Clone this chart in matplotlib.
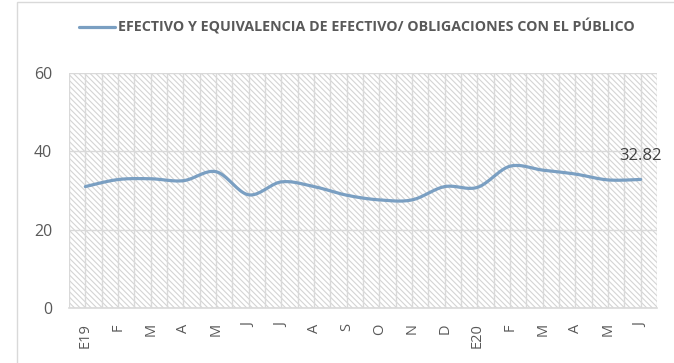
import numpy as np
import matplotlib
matplotlib.use('Agg')
import matplotlib.pyplot as plt
from matplotlib.patches import Rectangle

months = ['E19', 'F', 'M', 'A', 'M', 'J', 'J', 'A', 'S', 'O', 'N', 'D',
          'E20', 'F', 'M', 'A', 'M', 'J']
ratio = [31.0, 32.8, 33.0, 32.5, 34.8, 28.9, 32.2, 31.0, 28.8, 27.6,
         27.6, 31.0, 30.8, 36.2, 35.2, 34.2, 32.7, 32.82]
series_name = 'EFECTIVO Y EQUIVALENCIA DE EFECTIVO/ OBLIGACIONES CON EL PÚBLICO'

line_color = '#7a9fc2'
text_color = '#595959'
grid_color = '#d9d9d9'

plt.rcParams['font.family'] = ['Open Sans', 'DejaVu Sans']
plt.rcParams['hatch.linewidth'] = 0.8


def smooth(x, y, steps=20):
    # cubic bezier through every point, excel-like smoothing
    x = np.asarray(x, float)
    y = np.asarray(y, float)
    px = np.concatenate([[x[0]], x, [x[-1]]])
    py = np.concatenate([[y[0]], y, [y[-1]]])
    out_x, out_y = [], []
    t = np.linspace(0, 1, steps)
    for i in range(1, len(px) - 2):
        p0x, p1x, p2x, p3x = px[i - 1], px[i], px[i + 1], px[i + 2]
        p0y, p1y, p2y, p3y = py[i - 1], py[i], py[i + 1], py[i + 2]
        c1x, c1y = p1x + (p2x - p0x) / 6, p1y + (p2y - p0y) / 6
        c2x, c2y = p2x - (p3x - p1x) / 6, p2y - (p3y - p1y) / 6
        bx = (1 - t) ** 3 * p1x + 3 * (1 - t) ** 2 * t * c1x + 3 * (1 - t) * t ** 2 * c2x + t ** 3 * p2x
        by = (1 - t) ** 3 * p1y + 3 * (1 - t) ** 2 * t * c1y + 3 * (1 - t) * t ** 2 * c2y + t ** 3 * p2y
        out_x.extend(bx)
        out_y.extend(by)
    return np.array(out_x), np.array(out_y)


fig = plt.figure(figsize=(6.74, 3.63), dpi=100)
ax = fig.add_axes([0.1024, 0.1515, 0.8724, 0.6474])

# chart frame
fig.patches.append(Rectangle((17 / 674, -0.1), 1.0, 1.094, transform=fig.transFigure,
                             fill=False, edgecolor='#d9d9d9', linewidth=1))

# diagonal striped plot background
ax.add_patch(Rectangle((0, 0), 1, 1, transform=ax.transAxes, facecolor='white',
                       edgecolor='#d4d4d4', linewidth=0, hatch='\\\\\\\\\\\\',
                       zorder=0))

x = np.arange(len(months))
sx, sy = smooth(x, ratio)
ax.plot(sx, sy, color=line_color, linewidth=2.3, solid_capstyle='round',
        label=series_name, zorder=3)

ax.annotate(f'{ratio[-1]:.2f}', (x[-1], ratio[-1]), xytext=(0, 11),
            textcoords='offset points', ha='center', va='bottom',
            fontsize=12, color='#404040')

ax.set_xlim(-0.5, len(months) - 0.5)
ax.set_ylim(0, 60)
ax.set_yticks([0, 20, 40, 60])
ax.set_xticks(x)
ax.set_xticklabels(months, rotation=90)
ax.set_xticks(np.arange(-0.5, len(months), 1), minor=True)

ax.grid(True, which='major', color=grid_color, linewidth=1, zorder=1)
ax.grid(True, which='minor', axis='x', color=grid_color, linewidth=1, zorder=1)
ax.set_axisbelow(False)
for s in ['top', 'right', 'left']:
    ax.spines[s].set_visible(False)
ax.spines['bottom'].set_color(grid_color)
ax.spines['bottom'].set_linewidth(1.2)
ax.tick_params(axis='both', which='both', length=0, colors=text_color)
ax.tick_params(axis='y', labelsize=11.5, pad=12)
ax.tick_params(axis='x', labelsize=10.5, pad=11)

leg = fig.legend(loc='center left', bbox_to_anchor=(66 / 674, 1 - 27 / 363),
                 frameon=False, handlelength=2.5, handletextpad=0.25,
                 prop={'size': 10.3, 'weight': 'bold'})
for t in leg.get_texts():
    t.set_color(text_color)

fig.savefig('out.png', dpi=100)
